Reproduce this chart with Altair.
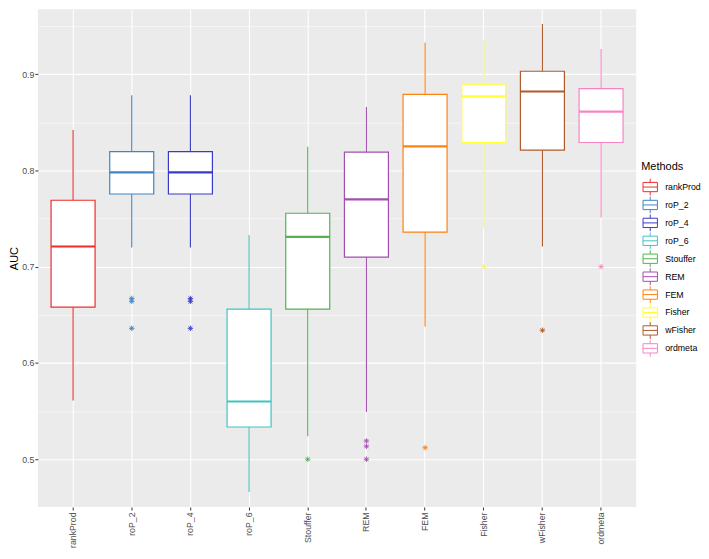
import altair as alt
import pandas as pd

methods = ["rankProd", "roP_2", "roP_4", "roP_6", "Stouffer", "REM", "FEM", "Fisher", "wFisher", "ordmeta"]
colors = ["#EE2C2C", "#3F85C4", "#3A3AC8", "#40C4C0", "#52B450", "#A150AE", "#FF8210", "#FFFF33", "#AE5A2C", "#F785C4"]

whisker_low = [0.561, 0.720, 0.720, 0.466, 0.524, 0.549, 0.638, 0.740, 0.721, 0.751]
q1 = [0.658, 0.7755, 0.7755, 0.5335, 0.656, 0.710, 0.736, 0.829, 0.821, 0.829]
median = [0.721, 0.798, 0.798, 0.560, 0.731, 0.770, 0.825, 0.877, 0.882, 0.861]
q3 = [0.769, 0.8195, 0.8195, 0.656, 0.7555, 0.819, 0.879, 0.889, 0.903, 0.885]
whisker_high = [0.842, 0.878, 0.878, 0.733, 0.8245, 0.866, 0.933, 0.936, 0.952, 0.926]

outlier_methods = ["roP_2", "roP_2", "roP_2", "roP_4", "roP_4", "roP_4", "Stouffer",
                   "REM", "REM", "REM", "FEM", "Fisher", "wFisher", "ordmeta"]
outlier_values = [0.667, 0.664, 0.636, 0.667, 0.664, 0.636, 0.500,
                  0.519, 0.5135, 0.500, 0.512, 0.700, 0.634, 0.700]

stats = pd.DataFrame({
    "Methods": methods, "lo": whisker_low, "q1": q1, "med": median, "q3": q3, "hi": whisker_high,
})
outliers = pd.DataFrame({"Methods": outlier_methods, "AUC": outlier_values})

FONT = "Liberation Sans"
major_test = "abs(round(datum.value*100) % 10) < 0.5"

x_enc = alt.X(
    "Methods:N", sort=methods,
    scale=alt.Scale(paddingInner=0, paddingOuter=0.1),
    axis=alt.Axis(title=None, labelAngle=270, labelAlign="right", labelBaseline="middle",
                  bandPosition=0.5, grid=True, gridColor="white", gridWidth=1.1,
                  tickSize=3, tickColor="#333333", tickWidth=1, domain=False,
                  labelFont=FONT, labelFontSize=8.8, labelColor="#4D4D4D", labelPadding=2),
)
y_scale = alt.Scale(domain=[0.4504, 0.9675], zero=False, nice=False)
y_axis = alt.Axis(
    title="AUC", values=[0.45, 0.5, 0.55, 0.6, 0.65, 0.7, 0.75, 0.8, 0.85, 0.9, 0.95],
    format=".1f",
    labelExpr=f"{major_test} ? datum.label : ''",
    grid=True, gridColor="white",
    gridWidth={"condition": {"test": major_test, "value": 1.1}, "value": 0.55},
    tickSize={"condition": {"test": major_test, "value": 3}, "value": 0},
    tickColor="#333333", tickWidth=1, domain=False,
    labelFont=FONT, labelFontSize=8.8, labelColor="#4D4D4D", labelPadding=1,
    titleFont=FONT, titleFontSize=11, titleFontWeight="normal", titleColor="black", titlePadding=2,
)

method_scale = alt.Scale(domain=methods, range=colors)
box_symbol = "M-0.85,-0.55H0.85V0.55H-0.85Z M-0.85,0H0.85 M0,-1V-0.55 M0,0.55V1"

legend = alt.Legend(title="Methods", orient="none", legendX=606, legendY=153,
                    symbolType=box_symbol, symbolSize=289, symbolFillColor="white",
                    symbolStrokeWidth=1, rowPadding=0, clipHeight=17.3, labelOffset=6,
                    titleFont=FONT, titleFontSize=11, titleFontWeight="normal",
                    titleColor="black", titlePadding=6,
                    labelFont=FONT, labelFontSize=8.8, labelColor="black", padding=0)

whiskers = alt.Chart(stats).mark_rule(strokeWidth=1.1).encode(
    x=x_enc,
    y=alt.Y("lo:Q", scale=y_scale, axis=y_axis),
    y2="hi:Q",
    stroke=alt.Stroke("Methods:N", scale=method_scale, sort=methods, legend=legend),
)

boxes = alt.Chart(stats).mark_bar(width=alt.RelativeBandSize(0.75), filled=False, fill="white",
                                  strokeWidth=1.2).encode(
    x=x_enc,
    y=alt.Y("q1:Q", scale=y_scale, axis=y_axis),
    y2="q3:Q",
    color=alt.Color("Methods:N", scale=method_scale, sort=methods, legend=None),
)

medians = alt.Chart(stats).mark_bar(width=alt.RelativeBandSize(0.75), filled=False,
                                    strokeWidth=2.2).encode(
    x=x_enc,
    y=alt.Y("med:Q", scale=y_scale, axis=y_axis),
    y2="med:Q",
    color=alt.Color("Methods:N", scale=method_scale, sort=methods, legend=None),
)

asterisk = "M-1,0L1,0M0,-1L0,1M-0.7,-0.7L0.7,0.7M-0.7,0.7L0.7,-0.7"
points = alt.Chart(outliers).mark_point(shape=asterisk, size=30, filled=False, strokeWidth=0.9,
                                        opacity=1).encode(
    x=x_enc,
    y=alt.Y("AUC:Q", scale=y_scale, axis=y_axis),
    stroke=alt.Stroke("Methods:N", scale=method_scale, sort=methods, legend=None),
)

chart = alt.layer(whiskers, boxes, medians, points).properties(
    width=601, height=500, padding=0,
).configure_view(fill="#EBEBEB", stroke=None)

chart.save("out.html", embed_options={"renderer": "svg", "actions": False})
